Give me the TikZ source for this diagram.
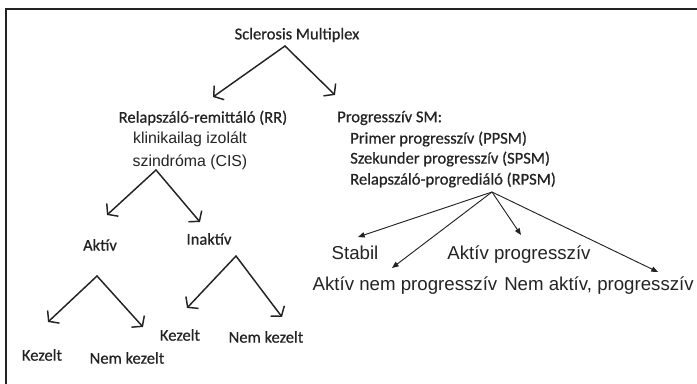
\documentclass[tikz,border=0pt]{standalone}
\usepackage{fontspec}
\usepackage{tikz}
\usetikzlibrary{arrows.meta}
\setmainfont{Carlito}[BoldFont=Carlito, BoldFeatures={FakeBold=0.6}]
\newfontfamily\arialfont{Liberation Sans}
\definecolor{ink}{RGB}{35,35,35}

\begin{document}
\begin{tikzpicture}[x=0.75pt, y=-0.75pt,
    calib/.style={text=ink, inner sep=0pt, font=\fontsize{12.4}{15.5}\selectfont\bfseries},
    arial/.style={text=ink, inner sep=0pt, font=\arialfont\fontsize{14}{17}\selectfont},
    small/.style={text=ink, inner sep=0pt, align=center, font=\arialfont\fontsize{11.9}{17.2}\selectfont},
    hand/.style={ink, line width=1.1pt, line cap=round, -{Straight Barb[length=5pt, width=13pt, line width=1.1pt]}},
    thin/.style={ink, line width=0.7pt, -{Triangle[length=5pt, width=4pt]}}]
    \useasboundingbox (0, 0) rectangle (697, 384);
    \draw[ink, line width=1.5pt] (6, 384) -- (6, 9) -- (697, 9);

    \node[calib] (sm) at (297, 35) {Sclerosis Multiplex};
    \node[calib] (rr) at (203, 118) {Relapszáló-remittáló (RR)};
    \node[small] (cis) at (190, 151) {klinikailag izolált\\szindróma (CIS)};
    \node[calib, anchor=west] (prog) at (337, 118) {Progresszív SM:};
    \node[calib, anchor=west] (ppsm) at (350, 139) {Primer progresszív (PPSM)};
    \node[calib, anchor=west] (spsm) at (350, 159) {Szekunder progresszív (SPSM)};
    \node[calib, anchor=west] (rpsm) at (350, 180) {Relapszáló-progrediáló (RPSM)};

    \node[calib] (aktiv) at (100, 245) {Aktív};
    \node[calib] (inaktiv) at (209, 239) {Inaktív};
    \node[calib] (kez1) at (42, 355) {Kezelt};
    \node[calib] (nemkez1) at (127, 358) {Nem kezelt};
    \node[calib] (kez2) at (180, 335) {Kezelt};
    \node[calib] (nemkez2) at (266, 337) {Nem kezelt};

    \node[arial] (stabil) at (355, 253) {Stabil};
    \node[arial] (aktprog) at (519, 255) {Aktív progresszív};
    \node[arial] (aktnem) at (405, 286) {Aktív nem progresszív};
    \node[arial] (nemakt) at (599, 286) {Nem aktív, progresszív};

    \coordinate (smtop) at (285, 46);
    \coordinate (cistop) at (156, 170);
    \coordinate (akttop) at (97, 276);
    \coordinate (inakttop) at (236, 256);
    \coordinate (rpsmtop) at (492, 192);

    \coordinate (rrtip) at (213, 97);
    \coordinate (progtip) at (335, 95);
    \coordinate (aktivtip) at (107, 215);
    \coordinate (inaktivtip) at (200, 222);
    \coordinate (kez1tip) at (48, 322);
    \coordinate (nemkez1tip) at (143, 327);
    \coordinate (kez2tip) at (187, 308);
    \coordinate (nemkez2tip) at (282, 317);
    \coordinate (stabiltip) at (358, 237);
    \coordinate (aktnemtip) at (392, 268);
    \coordinate (aktprogtip) at (521, 235);
    \coordinate (nemakttip) at (658, 272);

    \draw[hand] (smtop) -- (rrtip);
    \draw[hand] (smtop) -- (progtip);
    \draw[hand] (cistop) -- (aktivtip);
    \draw[hand] (cistop) -- (inaktivtip);
    \draw[hand] (akttop) -- (kez1tip);
    \draw[hand] (akttop) -- (nemkez1tip);
    \draw[hand] (inakttop) -- (kez2tip);
    \draw[hand] (inakttop) -- (nemkez2tip);

    \draw[thin] (rpsmtop) -- (stabiltip);
    \draw[thin] (rpsmtop) -- (aktnemtip);
    \draw[thin] (rpsmtop) -- (aktprogtip);
    \draw[thin] (rpsmtop) -- (nemakttip);
\end{tikzpicture}
\end{document}
